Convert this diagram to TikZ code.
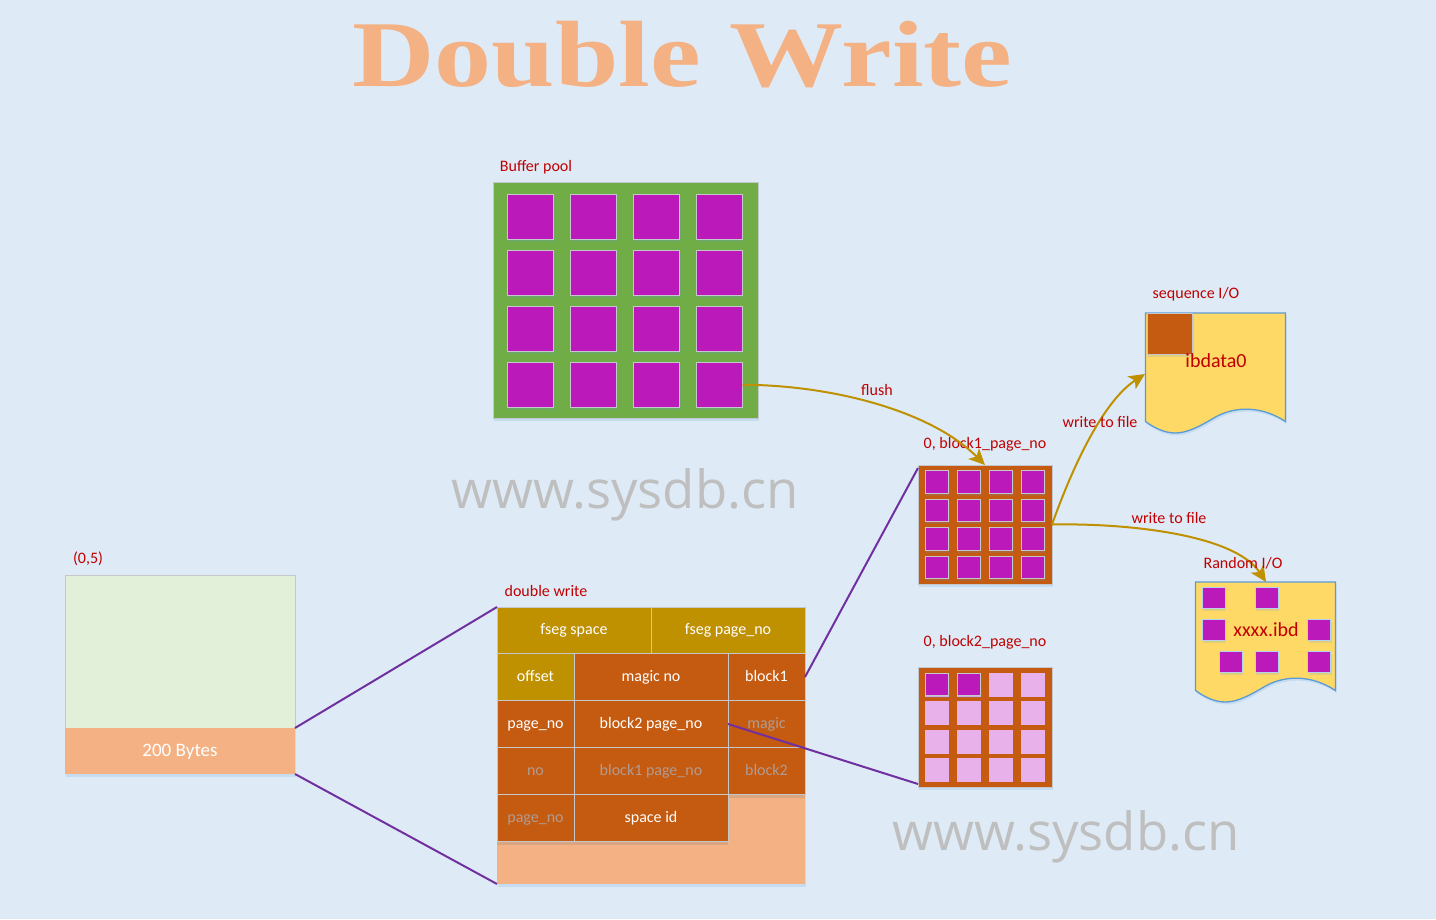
\documentclass[tikz,border=0pt]{standalone}
\usepackage{fontspec}
\usepackage{graphicx}
\setmainfont{Carlito}
\newfontfamily\wmfont{Open Sans}
\newfontfamily\titlefont{Liberation Serif}
\usetikzlibrary{arrows.meta,shadows}
\definecolor{bgc}{HTML}{DEEBF7}
\definecolor{peach}{HTML}{F4B183}
\definecolor{rust}{HTML}{C55A11}
\definecolor{gold}{HTML}{BF9000}
\definecolor{yel}{HTML}{FFD966}
\definecolor{lgreen}{HTML}{E2F0D9}
\definecolor{grn}{HTML}{70AD47}
\definecolor{redt}{HTML}{C00000}
\definecolor{purp}{HTML}{7030A0}
\definecolor{mag}{HTML}{BC19BA}
\definecolor{lmag}{HTML}{E8B1EA}
\definecolor{edgeb}{HTML}{5B9BD5}
\definecolor{cellb}{HTML}{C4C8CC}
\definecolor{wmc}{HTML}{BFBFBF}
\definecolor{dimt}{HTML}{B09C92}
\tikzset{
  softshadow/.style={drop shadow={shadow xshift=1pt,shadow yshift=-2.5pt,opacity=.18,fill=edgeb}},
  cellshadow/.style={drop shadow={shadow xshift=0pt,shadow yshift=-3pt,opacity=.22,fill=gray}},
  lab/.style={text=redt,font=\fontsize{16}{18}\selectfont,inner sep=0pt,anchor=center,text height=11pt,text depth=1pt},
  biglab/.style={text=redt,font=\fontsize{20}{24}\selectfont,inner sep=0pt,anchor=center},
  wm/.style={text=wmc,font=\wmfont\fontsize{52.6}{60}\selectfont,inner sep=0pt,anchor=center},
  panel/.style={draw=cellb,line width=.7pt,inner sep=0pt,outer sep=0pt,anchor=north west,softshadow},
  sq/.style={draw=cellb,line width=.9pt,fill=mag,inner sep=0pt,outer sep=0pt,anchor=north west,softshadow},
  lsq/.style={fill=lmag,inner sep=0pt,anchor=north west},
  cell/.style={draw=cellb,line width=.8pt,inner sep=0pt,outer sep=0pt,anchor=north west,text=white,font=\fontsize{16}{18}\selectfont,fill=rust,text height=12pt,text depth=2.6pt},
  dim/.style={text=dimt},
  conn/.style={draw=purp,line width=2pt},
  flow/.style={draw=gold,line width=2pt,-{Stealth[length=16pt,width=15pt,inset=4pt]}},
  docbox/.style={draw=edgeb,line width=1.3pt,fill=yel,softshadow}
}
\newcommand{\docshape}[2]{%
  \path[docbox,shift={(#1,#2)}] (0,0) -- (140,0) -- (140,108.5)
    .. controls (118,94) and (92,92) .. (70,104)
    .. controls (55,113) and (42,120) .. (30,120)
    .. controls (19,120) and (9,115) .. (0,108.5) -- cycle;}
\begin{document}
\begin{tikzpicture}[x=1pt,y=-1pt]
\useasboundingbox (0,0) rectangle (1436,919);
\fill[bgc] (0,0) rectangle (1436,919);

% title
\node[inner sep=0pt,text=peach] (title) at (682.5,55) {\scalebox{1.296}[1.07]{\titlefont\bfseries\fontsize{88}{100}\selectfont Double Write}};

% watermarks
\node[wm] (wm1) at (625,495) {www.sysdb.cn};
\node[wm] (wm2) at (1066,837) {www.sysdb.cn};

% buffer pool
\node[lab] (bplab) at (536,166) {Buffer pool};
\node[panel,fill=grn,minimum width=265pt,minimum height=236pt] (bp) at (493,182) {};
\foreach \x [count=\i] in {507,570,633,696}
  \foreach \y [count=\j] in {194,250,306,362}
    \node[sq,minimum width=46.5pt,minimum height=45.5pt] (bp-\i-\j) at (\x,\y) {};

% 200 bytes block
\node[lab] (zflab) at (88,558) {(0,5)};
\node[panel,fill=lgreen,minimum width=230pt,minimum height=153pt] (rec) at (65,575) {};
\node[anchor=north west,fill=peach,inner sep=0pt,outer sep=0pt,minimum width=230pt,minimum height=46pt,text=white,font=\fontsize{19}{22}\selectfont,text height=13pt,text depth=1.4pt,softshadow] (bytes) at (65,728) {200 Bytes};

% double write table
\node[lab] (dwlab) at (546,591) {double write};
\node[anchor=north west,fill=peach,inner sep=0pt,outer sep=0pt,minimum width=308pt,minimum height=277pt,softshadow] (dw) at (497,607) {};
\node[cell,fill=gold,minimum width=154pt,minimum height=46.5pt] (c11) at (497,607) {fseg space};
\node[cell,fill=gold,minimum width=154pt,minimum height=46.5pt] (c12) at (651,607) {fseg page\_no};
\node[cell,fill=gold,minimum width=77pt,minimum height=47pt] (c21) at (497,653.5) {offset};
\node[cell,minimum width=154pt,minimum height=47pt] (c22) at (574,653.5) {magic no};
\node[cell,minimum width=77pt,minimum height=47pt] (c23) at (728,653.5) {block1};
\node[cell,minimum width=77pt,minimum height=47pt] (c31) at (497,700.5) {page\_no};
\node[cell,minimum width=154pt,minimum height=47pt] (c32) at (574,700.5) {block2 page\_no};
\node[cell,dim,minimum width=77pt,minimum height=47pt] (c33) at (728,700.5) {magic};
\node[cell,dim,minimum width=77pt,minimum height=47pt] (c41) at (497,747.5) {no};
\node[cell,dim,minimum width=154pt,minimum height=47pt] (c42) at (574,747.5) {block1 page\_no};
\node[cell,dim,cellshadow,minimum width=77pt,minimum height=47pt] (c43) at (728,747.5) {block2};
\node[cell,dim,cellshadow,minimum width=77pt,minimum height=47pt] (c51) at (497,794.5) {page\_no};
\node[cell,cellshadow,minimum width=154pt,minimum height=47pt] (c52) at (574,794.5) {space id};

% block 1 grid
\node[lab] (g1lab) at (985,443) {0, block1\_page\_no};
\node[panel,fill=rust,minimum width=134pt,minimum height=119pt] (g1) at (918,465) {};
\foreach \x [count=\i] in {925,957,989,1021}
  \foreach \y/\h [count=\j] in {470/23.5,499/22,527/23,556/22}
    \node[sq,minimum width=23.5pt,minimum height=\h pt] (ga-\i-\j) at (\x,\y) {};

% block 2 grid
\node[lab] (g2lab) at (985,641) {0, block2\_page\_no};
\node[panel,fill=rust,minimum width=134pt,minimum height=120pt] (g2) at (918,667) {};
\foreach \x [count=\i] in {925,957,989,1021}
  \foreach \y [count=\j] in {673,701,730,758}
    \node[lsq,minimum width=24pt,minimum height=23.5pt] (gb-\i-\j) at (\x,\y) {};
\node[sq,minimum width=23.5pt,minimum height=22.5pt] (gbp1) at (925,673) {};
\node[sq,minimum width=23.5pt,minimum height=22.5pt] (gbp2) at (957,673) {};

% ibdata file
\node[lab] (seqlab) at (1196,293) {sequence I/O};
\docshape{1145.5}{313}
\coordinate (ibw) at (1145,374);
\node[panel,fill=rust,minimum width=45.5pt,minimum height=41pt] (ibsq) at (1147,313.5) {};
\node[biglab] (ibtxt) at (1216,361) {ibdata0};

% ibd file
\docshape{1195.5}{582}
\coordinate (rdt) at (1266,582);
\foreach \x/\y [count=\k] in {1202/587,1255/587,1202/619,1307.5/619,1219/651,1255/651,1307.5/651}
  \node[sq,draw=edgeb!45!white,minimum width=23pt,minimum height=21.5pt] (ib-\k) at (\x,\y) {};
\node[biglab] (rdtxt) at (1266,630) {xxxx.ibd};

% connectors
\draw[conn] (bytes.north east) -- (dw.north west);
\draw[conn] (bytes.south east) -- (dw.south west);
\draw[conn] (c23.east) -- ([yshift=-3pt]g1.north west);
\draw[conn] (c32.east) -- ([yshift=3pt]g2.south west);

\draw[flow] (bp-4-4.east) .. controls (830,385) and (930,410) .. (g1.north);
\draw[flow] (g1.east) .. controls (1075,460) and (1105,400) .. (ibw);
\draw[flow] (g1.east) .. controls (1130,523) and (1235,535) .. (rdt);

% flow labels
\node[lab] (fl) at (877,390) {flush};
\node[lab] (w1) at (1100,422) {write to file};
\node[lab] (w2) at (1169,518) {write to file};
\node[lab] (rl) at (1243,563) {Random I/O};
\end{tikzpicture}
\end{document}
